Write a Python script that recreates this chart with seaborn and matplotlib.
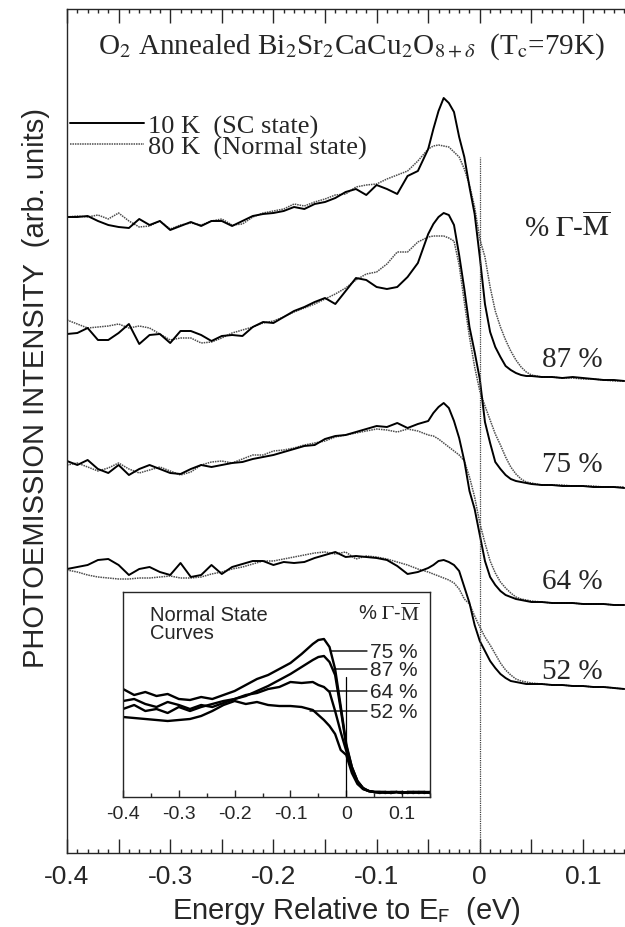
import matplotlib
matplotlib.use("Agg")
import matplotlib.pyplot as plt
import seaborn as sns
from matplotlib.ticker import MultipleLocator, FuncFormatter

# ---------------------------------------------------------------- data
# energy relative to E_F (eV), main panel
energy = [-0.40, -0.39, -0.38, -0.37, -0.36, -0.35, -0.34, -0.33, -0.32, -0.31,
          -0.30, -0.29, -0.28, -0.27, -0.26, -0.25, -0.24, -0.23, -0.22, -0.21,
          -0.20, -0.19, -0.18, -0.17, -0.16, -0.15, -0.14, -0.13, -0.12, -0.11,
          -0.10, -0.09, -0.08, -0.07, -0.06,
          -0.05, -0.045, -0.04, -0.035, -0.03, -0.025, -0.02, -0.015, -0.01, -0.005,
          0.0, 0.005, 0.01, 0.015, 0.02, 0.025, 0.03, 0.035, 0.04, 0.045, 0.05,
          0.06, 0.07, 0.08, 0.09, 0.10, 0.11, 0.12, 0.13, 0.14]

# photoemission intensity (arb. units, offset curves), 10 K = SC, 80 K = normal
sc_87 = [636, 636, 637, 632, 628, 626, 625, 634, 628, 632,
         623, 627, 631, 627, 632, 632, 627, 632, 637, 639,
         640, 642, 646, 644, 649, 651, 655, 661, 664, 658,
         668, 664, 659, 677, 682,
         704, 724, 742, 755, 750, 741, 716, 696, 666, 639,
         596, 549, 521, 506, 496, 487, 483, 480, 478, 477, 477,
         476, 476, 475, 476, 475, 474, 473, 473, 472]
ns_87 = [636, 637, 636, 638, 634, 640, 632, 626, 627, 632,
         624, 628, 630, 628, 632, 634, 628, 629, 636, 640,
         642, 644, 649, 647, 651, 654, 658, 659, 666, 668,
         669, 674, 678, 682, 692,
         704, 707, 708, 707, 706, 701, 696, 684, 668, 646,
         614, 596, 566, 542, 526, 513, 502, 493, 486, 481, 478,
         476, 476, 475, 475, 474, 474, 473, 472, 472]
sc_75 = [519, 520, 525, 513, 513, 520, 529, 509, 518, 519,
         510, 522, 522, 518, 512, 517, 518, 517, 526, 531,
         530, 536, 542, 546, 551, 555, 549, 562, 575, 573,
         566, 564, 566, 576, 590,
         619, 629, 636, 640, 638, 628, 598, 564, 526, 501,
         474, 431, 410, 391, 384, 378, 374, 372, 371, 370, 369,
         368, 368, 367, 367, 367, 366, 366, 366, 365]
ns_75 = [533, 529, 525, 526, 527, 529, 525, 527, 525, 519,
         513, 515, 515, 510, 511, 515, 520, 523, 526, 530,
         532, 536, 541, 545, 549, 554, 559, 565, 573, 579,
         581, 589, 601, 601, 611,
         616, 617, 617, 617, 615, 612, 588, 551, 516, 486,
         462, 447, 433, 419, 408, 396, 386, 379, 374, 371, 370,
         368, 368, 368, 367, 367, 367, 366, 366, 366]
sc_64 = [392, 388, 393, 384, 380, 388, 378, 384, 388, 384,
         380, 379, 384, 388, 386, 388, 390, 391, 394, 396,
         398, 401, 404, 407, 408, 414, 417, 418, 421, 424,
         427, 426, 430, 425, 429,
         432, 440, 446, 450, 445, 432, 415, 392, 362, 344,
         318, 292, 276, 268, 262, 258, 256, 254, 253, 252, 251,
         251, 250, 250, 250, 249, 249, 249, 248, 248]
ns_64 = [388, 390, 386, 382, 385, 390, 384, 380, 383, 386,
         382, 378, 381, 388, 391, 392, 390, 394, 398, 398,
         402, 403, 405, 408, 410, 412, 416, 418, 420, 422,
         424, 423, 421, 424, 422,
         418, 417, 414, 410, 406, 402, 398, 392, 376, 356,
         330, 310, 292, 280, 271, 265, 260, 256, 254, 253, 252,
         251, 250, 250, 250, 249, 249, 249, 248, 248]
sc_52 = [284, 286, 288, 293, 294, 288, 278, 284, 286, 281,
         278, 290, 276, 278, 288, 279, 286, 289, 292, 292,
         288, 291, 290, 291, 295, 298, 301, 296, 297, 296,
         295, 293, 287, 279, 281,
         285, 288, 292, 293, 291, 288, 282, 266, 250, 228,
         212, 202, 192, 185, 179, 175, 172, 171, 170, 169, 169,
         169, 168, 168, 167, 167, 166, 166, 165, 164]
ns_52 = [283, 281, 278, 276, 275, 274, 274, 275, 275, 276,
         277, 275, 275, 276, 279, 281, 284, 286, 289, 292,
         292, 294, 296, 298, 300, 301, 299, 301, 294, 297,
         296, 294, 291, 288, 284,
         281, 279, 277, 275, 273, 270, 264, 254, 249, 237,
         226, 216, 208, 199, 190, 183, 178, 174, 172, 171, 170,
         169, 168, 168, 167, 167, 166, 166, 165, 164]

cut_labels = ["87 %", "75 %", "64 %", "52 %"]
cut_label_y = [494, 389, 272, 182]

# inset: normal state curves
inset_energy = [-0.40, -0.38, -0.36, -0.34, -0.32, -0.30, -0.28, -0.26, -0.24, -0.22,
                -0.20, -0.18, -0.16, -0.14, -0.12, -0.10, -0.08, -0.06,
                -0.05, -0.04, -0.03, -0.02, -0.01, 0.0, 0.01, 0.02, 0.03, 0.04,
                0.05, 0.06, 0.07, 0.08, 0.09, 0.10, 0.11, 0.12, 0.13, 0.14, 0.15]
in_75 = [108, 102, 105, 101, 103, 98, 97, 100, 98, 102, 106, 112, 118, 122, 128, 134, 143, 153,
         157, 158, 150, 128, 91, 53, 30, 16, 9, 6,
         5, 5, 4, 5, 5, 4, 5, 5, 4, 5, 5]
in_87 = [96, 98, 93, 90, 95, 92, 88, 92, 90, 94, 98, 101, 106, 111, 117, 123, 130, 137,
         140, 141, 135, 122, 88, 51, 30, 16, 9, 6,
         5, 5, 5, 4, 5, 4, 5, 4, 5, 5, 4]
in_64 = [88, 92, 86, 88, 84, 90, 86, 90, 93, 96, 98, 102, 104, 108, 110, 115, 114, 115,
         112, 110, 105, 86, 65, 46, 28, 15, 8, 6,
         5, 5, 5, 4, 5, 5, 4, 5, 5, 4, 5]
in_52 = [80, 79, 78, 77, 76, 77, 78, 81, 86, 92, 96, 93, 95, 92, 91, 91, 90, 87,
         82, 77, 71, 63, 47, 42, 24, 13, 8, 6,
         5, 4, 5, 5, 5, 4, 5, 5, 5, 5, 4]

inset_labels = ["75 %", "87 %", "64 %", "52 %"]
inset_anchor_e = [-0.027, -0.022, -0.030, -0.065]
inset_anchor_y = [146, 128, 106, 86]

# ---------------------------------------------------------------- style
sns.set_style("ticks")
plt.rcParams["font.family"] = ["Liberation Sans", "DejaVu Sans"]
plt.rcParams["axes.unicode_minus"] = False
plt.rcParams["axes.linewidth"] = 1.0
SERIF = ["Liberation Serif", "DejaVu Serif"]

fig = plt.figure(figsize=(6.25, 9.28), dpi=100)
ax = fig.add_axes([67 / 625, 74 / 928, 558 / 625, 844 / 928])

sc_kw = dict(color="black", linewidth=1.4, estimator=None, sort=False)
ns_kw = dict(color="0.3", linewidth=1.1, linestyle=(0, (1, 0.6)), estimator=None, sort=False)

pairs = [(sc_87, ns_87), (sc_75, ns_75), (sc_64, ns_64), (sc_52, ns_52)]
for i, (sc, ns) in enumerate(pairs):
    sns.lineplot(x=energy, y=ns, ax=ax, label="80 K  (Normal state)" if i == 0 else None, **ns_kw)
    sns.lineplot(x=energy, y=sc, ax=ax, label="10 K  (SC state)" if i == 0 else None, **sc_kw)

ax.axvline(0, ymin=0, ymax=0.825, color="0.25", linestyle=(0, (1, 0.8)), linewidth=0.9)

ax.set_xlim(-0.4, 0.1407)
ax.set_ylim(0, 844)
ax.set_yticks([])
ax.spines["right"].set_visible(False)


def main_fmt(v, pos):
    if abs(v / 0.1 - round(v / 0.1)) > 1e-6:
        return ""
    return "0" if abs(v) < 1e-9 else f"{v:.1f}"


ax.xaxis.set_major_locator(MultipleLocator(0.05))
ax.xaxis.set_minor_locator(MultipleLocator(0.01))
ax.xaxis.set_major_formatter(FuncFormatter(main_fmt))
ax.tick_params(axis="x", which="both", direction="in", top=True, bottom=True,
               width=1.0, labelsize=19, pad=8)
ax.tick_params(axis="x", which="major", length=10)
ax.tick_params(axis="x", which="minor", length=3)

ax.set_xlabel(r"Energy Relative to E$_\mathrm{F}$  (eV)", fontsize=21,
              math_fontfamily="stixsans", labelpad=4)
fig.text(36 / 625, 1 - 388 / 928, "PHOTOEMISSION INTENSITY  (arb. units)",
         rotation=90, ha="center", va="center", fontsize=21)

ax.text(0.51, 0.956,
        r"O$_2$ Annealed Bi$_2$Sr$_2$CaCu$_2$O$_{8+\delta}$  (T$_\mathrm{c}$=79K)",
        transform=ax.transAxes, ha="center", va="center", fontsize=21,
        family=SERIF, math_fontfamily="stix")

handles, labels = ax.get_legend_handles_labels()
order = [labels.index("10 K  (SC state)"), labels.index("80 K  (Normal state)")]
ax.legend([handles[k] for k in order], [labels[k] for k in order],
          loc="upper left", bbox_to_anchor=(0.005, 0.876), frameon=False,
          borderpad=0, borderaxespad=0, handlelength=2.8, handletextpad=0.15,
          labelspacing=-0.1, prop={"family": SERIF, "size": 19})

ax.text(0.085, 626, r"% $\Gamma$-$\overline{\mathrm{M}}$", ha="center", va="center",
        fontsize=21, family=SERIF, math_fontfamily="stix")
for lab, y in zip(cut_labels, cut_label_y):
    ax.text(0.09, y, lab, ha="center", va="center", fontsize=21, family=SERIF)

# ---------------------------------------------------------------- inset
axi = fig.add_axes([123 / 625, 130 / 928, 307 / 625, 205 / 928])
axi.set_facecolor("white")
for curve in [in_52, in_64, in_87, in_75]:
    sns.lineplot(x=inset_energy, y=curve, ax=axi, color="black", linewidth=1.7,
                 estimator=None, sort=False)
axi.axvline(0, ymin=0, ymax=0.585, color="black", linewidth=0.9)
axi.set_xlim(-0.4, 0.15)
axi.set_ylim(0, 205)
axi.set_yticks([])
axi.xaxis.set_major_locator(MultipleLocator(0.1))
axi.xaxis.set_minor_locator(MultipleLocator(0.05))
axi.xaxis.set_major_formatter(FuncFormatter(lambda v, p: "0" if abs(v) < 1e-9 else f"{v:.1f}"))
axi.tick_params(axis="x", which="both", direction="in", width=1.0, labelsize=14, pad=6)
axi.tick_params(axis="x", which="major", length=5)
axi.tick_params(axis="x", which="minor", length=3)

axi.text(0.088, 0.937, "Normal State\nCurves", transform=axi.transAxes, ha="left",
         va="top", fontsize=14.5, linespacing=0.95)
axi.text(0.967, 0.902, r"% $\Gamma$-$\overline{\mathrm{M}}$", transform=axi.transAxes,
         ha="right", va="center", fontsize=14.5, math_fontfamily="stix")
for lab, e, y in zip(inset_labels, inset_anchor_e, inset_anchor_y):
    axi.annotate(lab, xy=(e, y), xytext=(0.043, y), ha="left", va="center",
                 fontsize=15, arrowprops=dict(arrowstyle="-", color="black",
                                              linewidth=1.0, shrinkA=0, shrinkB=0))

fig.savefig("out.png", dpi=100)
